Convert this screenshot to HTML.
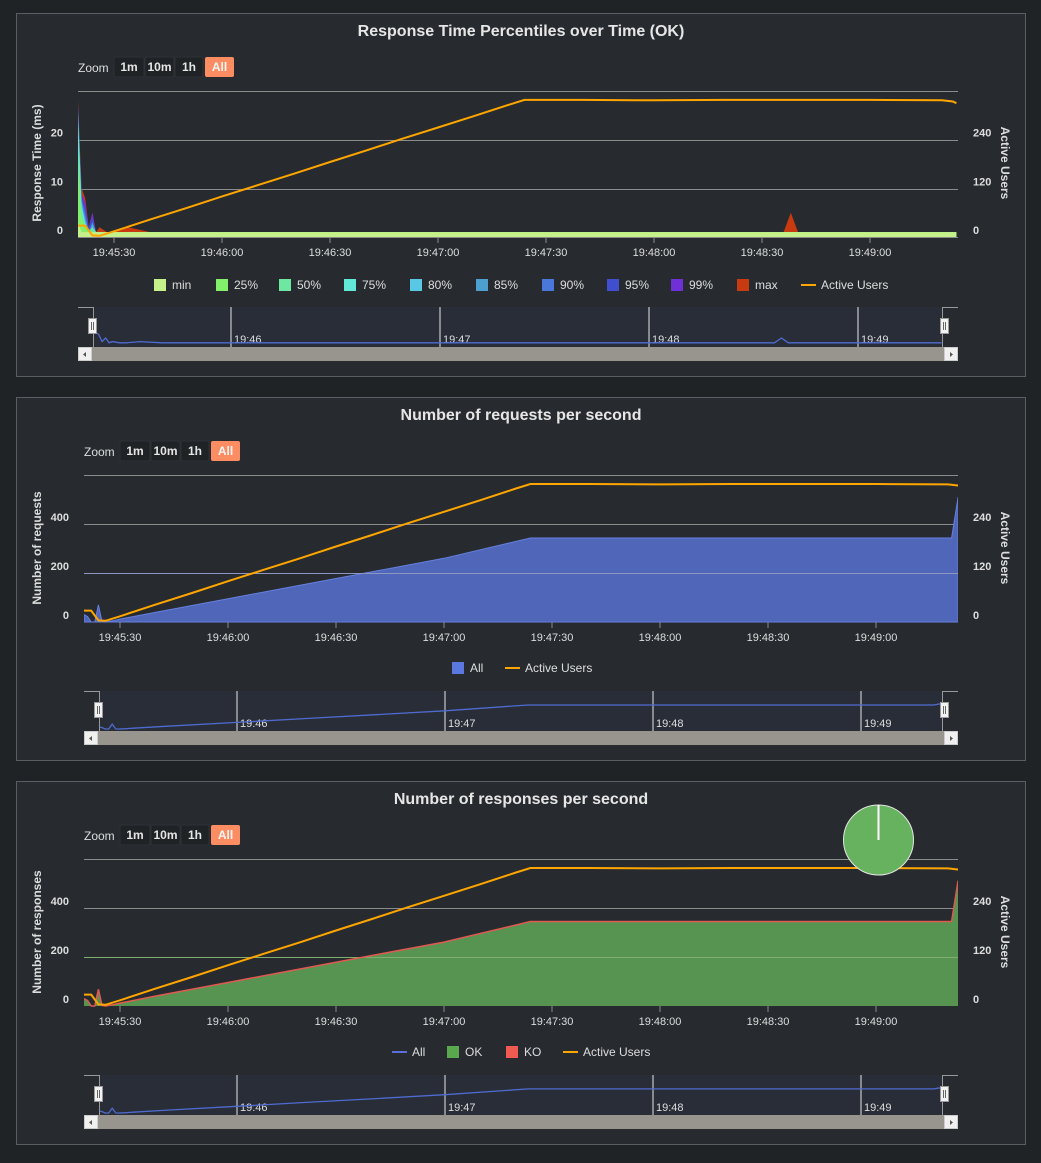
<!DOCTYPE html>
<html><head><meta charset="utf-8">
<style>
html,body{margin:0;padding:0;background:#1f2326;overflow:hidden;}
svg{display:block;font-family:"Liberation Sans",sans-serif;}
</style></head>
<body>
<svg id="root" width="1041" height="1163" viewBox="0 0 1041 1163" xmlns="http://www.w3.org/2000/svg"></svg>
<script>
// ---------- data ----------
const times1 = [0,1,2,3,4,5,6,8,10,14,20,30,60,90,120,150,180,196,198,200,230,244];
const maxV = [28,10,8,2,5,1,2,1,1,2,1,1,1,1,1,1,1,1,5,1,1,1];
const p99 = [27,9,7,2,5,1,1,1,1,1,1,1,1,1,1,1,1,1,1,1,1,1];
const p95 = [27,8,6,2,4,1,1,1,1,1,1,1,1,1,1,1,1,1,1,1,1,1];
const p90 = [26,8,5,1,3,1,1,1,1,1,1,1,1,1,1,1,1,1,1,1,1,1];
const p85 = [26,7,4,1,3,1,1,1,1,1,1,1,1,1,1,1,1,1,1,1,1,1];
const p80 = [25,7,3,1,2,1,1,1,1,1,1,1,1,1,1,1,1,1,1,1,1,1];
const p75 = [24,6,3,1,2,1,1,1,1,1,1,1,1,1,1,1,1,1,1,1,1,1];
const p50 = [20,5,2,1,2,1,1,1,1,1,1,1,1,1,1,1,1,1,1,1,1,1];
const p25 = [14,4,2,1,1,1,1,1,1,1,1,1,1,1,1,1,1,1,1,1,1,1];
const minV = [3,1,1,1,1,1,1,1,1,1,1,1,1,1,1,1,1,1,1,1,1,1];
const pctNames = ['min','25%','50%','75%','80%','85%','90%','95%','99%','max'];
const pctColors = ['#c6f08a','#82f06a','#6ee8a0','#62e8d6','#5ac8e4','#4ba0d0','#4a78d8','#3f4fd0','#7030d8','#c83a10'];

const uTimes = [0,2,4,6,10,20,30,40,50,60,70,80,90,100,110,120,124,140,160,180,200,220,240,243,244];
const uVals = [28,28,4,3,14,43,71,100,128,156,185,213,242,270,298,327,338,338,337,338,338,338,337,334,330];

const rTimes = [0,1,2,3,4,5,6,8,10,20,40,60,80,100,124,140,180,220,241,242.8];
const rVals = [30,22,0,0,70,2,0,5,12,40,95,150,205,260,343,343,343,343,343,510];
const okVals = [28,20,0,0,60,2,0,5,12,40,95,150,205,260,343,343,343,343,343,500];
const koVals = [2,2,0,0,8,0,0,0,0,1,1,1,1,1,2,2,2,2,2,12];

const xTickLabels = ['19:45:30','19:46:00','19:46:30','19:47:00','19:47:30','19:48:00','19:48:30','19:49:00'];
const xTickTimes = [10,40,70,100,130,160,190,220];
const navTickLabels = ['19:46','19:47','19:48','19:49'];
const navTickTimes = [40,100,160,220];
const rtTicks = [0,10,20];
const reqTicks = [0,200,400];
const userTicks = [0,120,240];

// ---------- helpers ----------
const NS='http://www.w3.org/2000/svg';
const root=document.getElementById('root');
function mk(tag,parent){const e=document.createElementNS(NS,tag);(parent||root).appendChild(e);return e;}
function at(e,o){for(const k in o)e.setAttribute(k,o[k]);return e;}
function txt(parent,x,y,s,size,fill,anchor,weight){const t=mk('text',parent);at(t,{x:x,y:y,'font-size':size,fill:fill,'text-anchor':anchor||'start','font-weight':weight||'normal'});t.textContent=s;return t;}
function linePath(ts,vs,xf,yf){return ts.map((t,i)=>(i?'L':'M')+xf(t).toFixed(1)+','+yf(vs[i]).toFixed(1)).join('');}
function areaPath(ts,vs,xf,yf,base){return linePath(ts,vs,xf,yf)+'L'+xf(ts[ts.length-1]).toFixed(1)+','+base+'L'+xf(ts[0]).toFixed(1)+','+base+'Z';}

const bg=mk('rect');at(bg,{x:0,y:0,width:1041,height:1163,fill:'#1f2326'});



let clipId=0;
function panel(oy,title){
  const g=mk('g');
  const r=mk('rect',g);at(r,{x:16.5,y:oy+13.5,width:1009,height:363,fill:'#272b2f',stroke:'#5b5e61'});
  
  const t=txt(g,521,oy+36,title,16,'#e6e6e6','middle','bold');
  
  return g;
}
function zoomButtons(g,x0,oy){
  const z=txt(g,x0,oy+72,'Zoom',12,'#dddddd');
  
  const labels=['1m','10m','1h','All'];const xs=[36,67,97,127];const ws=[30,29,28,29];
  labels.forEach((l,i)=>{
    const bg2=mk('g',g);
    const r=mk('rect',bg2);at(r,{x:x0+xs[i],y:oy+57,width:ws[i],height:20,rx:2,fill:l==='All'?'#fc8d62':'#1f2326',stroke:l==='All'?'none':'#2e3236'});
    txt(bg2,x0+xs[i]+ws[i]/2,oy+71,l,12,l==='All'?'#f5f5f5':'#e6e6e6','middle','bold');
  });
}
function grid(g,x0,x1,ys){ys.forEach(y=>{const l=mk('line',g);at(l,{x1:x0,x2:x1,y1:y,y2:y,stroke:'#8c8c8c','stroke-width':1});});}
function xAxis(g,xf,y){
  xTickTimes.forEach((t,i)=>{
    const x=xf(t);const l=mk('line',g);at(l,{x1:x,x2:x,y1:y,y2:y+6,stroke:'#888'});
    
    const tt=txt(g,x,y+19,xTickLabels[i],11,'#dddddd','middle');
    
  });
}
function yAxes(g,ticksL,yfL,xL,titleL,yfR,midY){
  ticksL.forEach(v=>{const t=txt(g,xL,yfL(v)-3,String(v),11,'#dddddd','end','bold');});
  userTicks.forEach(v=>{const t=txt(g,973,yfR(v)-3,String(v),11,'#dddddd','start','bold');});
  const a=txt(g,0,0,titleL,12,'#dddddd','middle','bold');at(a,{transform:'translate(41,'+midY+') rotate(-90)'});
  
  const b=txt(g,0,0,'Active Users',12,'#dddddd','middle','bold');at(b,{transform:'translate(1001,'+midY+') rotate(90)'});
  
}
function clip(x,y,w,h){const id='c'+(clipId++);const cp=mk('clipPath');cp.setAttribute('id',id);const r=mk('rect',cp);at(r,{x:x,y:y,width:w,height:h});return 'url(#'+id+')';}
function navigator(g,x0,x1,oy,xn,navTs,navVs,navY){
  const ng=mk('g',g);
  const m=mk('rect',ng);at(m,{x:x0+15,y:oy+307,width:x1-x0-30,height:40,fill:'#282d38'});
  navTickTimes.forEach((t,i)=>{const x=xn(t);const l=mk('line',ng);at(l,{x1:x,x2:x,y1:oy+307,y2:oy+347,stroke:'#e8e8e8'});
    
    const tt=txt(ng,x+3,oy+343,navTickLabels[i],11,'#dddddd');});
  const p=mk('path',ng);at(p,{d:linePath(navTs,navVs,xn,navY),fill:'none',stroke:'#4f6bd0','stroke-width':1.3,'clip-path':clip(x0+15,oy+300,x1-x0-30,50)});
  
  const o=mk('path',ng);at(o,{d:'M'+x0+','+(oy+307.5)+'H'+(x0+15.5)+'V'+(oy+347)+'M'+x1+','+(oy+307.5)+'H'+(x1-15.5)+'V'+(oy+347),fill:'none',stroke:'#999'});
  [x0+10,x1-18].forEach(hx=>{const h=mk('rect',ng);at(h,{x:hx+0.5,y:oy+318.5,width:8,height:15,fill:'#f2f2f2',stroke:'#999'});
    
    const l1=mk('path',ng);at(l1,{d:'M'+(hx+3.5)+','+(oy+322)+'V'+(oy+330)+'M'+(hx+5.5)+','+(oy+322)+'V'+(oy+330),stroke:'#666'});});
  const sb=mk('rect',ng);at(sb,{x:x0,y:oy+347,width:x1-x0,height:14,fill:'#98958f'});
  
  [x0,x1-14].forEach((bx,i)=>{const b=mk('rect',ng);at(b,{x:bx+0.5,y:oy+347.5,width:13,height:13,fill:'#f0f0f0',stroke:'#ccc'});
    
    const a=mk('path',ng);at(a,{d:i?'M'+(bx+6)+','+(oy+352)+'l3,2.5l-3,2.5z':'M'+(bx+8)+','+(oy+352)+'l-3,2.5l3,2.5z',fill:'#555'});});
}
function legendSquare(g,x,y,c,label,name){const lg=mk('g',g);
  const r=mk('rect',lg);at(r,{x:x,y:y-6,width:12,height:12,fill:c});txt(lg,x+18,y+4,label,12,'#dddddd');}
function legendLine(g,x,y,c,label,name){const lg=mk('g',g);
  const l=mk('line',lg);at(l,{x1:x,x2:x+15,y1:y,y2:y,stroke:c,'stroke-width':2});txt(lg,x+20,y+4,label,12,'#dddddd');}

// ---------- Chart 1 ----------
(function(){
  const g=panel(0,'Response Time Percentiles over Time (OK)');
  zoomButtons(g,78,0);
  const xs=t=>78+t*3.6, ys=v=>237-v*4.867, yu=u=>237-u*48.67/120;
  grid(g,78,958,[91.5,140.5,189.5]);
  const cp=clip(78,85,880,153);
  const series=[minV,p25,p50,p75,p80,p85,p90,p95,p99,maxV];
  for(let i=series.length-1;i>=0;i--){
    const p=mk('path',g);at(p,{d:areaPath(times1,series[i],xs,ys,237),fill:pctColors[i],'clip-path':cp});
    
  }
  const bl=mk('line',g);at(bl,{x1:78,x2:958,y1:237.5,y2:237.5,stroke:'#888'});
  
  const u=mk('path',g);at(u,{d:linePath(uTimes,uVals,xs,yu),fill:'none',stroke:'#ffa500','stroke-width':2,'clip-path':cp});
  
  xAxis(g,xs,237);
  yAxes(g,rtTicks,ys,63,'Response Time (ms)',yu,163);
  const lx=[154,216,279,344,410,476,542,607,671,737];
  pctNames.forEach((n,i)=>legendSquare(g,lx[i],285,pctColors[i],n,'legend-'+n.replace('%','')));
  legendLine(g,801,285,'#ffa500','Active Users','legend-active-users');
  navigator(g,78,958,0,t=>231+(t-40)*209/60,times1,maxV,v=>344-v*1.2);
})();

// ---------- Chart 2 ----------
(function(){
  const oy=384;
  const g=panel(oy,'Number of requests per second');
  zoomButtons(g,84,oy);
  const xs=t=>84+t*3.6, ys=v=>oy+238-v*49/200, yu=u=>oy+238-u*49/120;
  grid(g,84,958,[oy+91.5,oy+140.5]);
  const cp=clip(84,oy+86,874,153);
  const a=mk('path',g);at(a,{d:areaPath(rTimes,rVals,xs,ys,oy+238),fill:'#5066b8',stroke:'#6680e0','stroke-width':1,'clip-path':cp});
  
  const gl=mk('line',g);at(gl,{x1:84,x2:958,y1:oy+189.5,y2:oy+189.5,stroke:'#8c96c0'});
  
  const u=mk('path',g);at(u,{d:linePath(uTimes,uVals,xs,yu),fill:'none',stroke:'#ffa500','stroke-width':2,'clip-path':cp});
  
  xAxis(g,xs,oy+238);
  yAxes(g,reqTicks,ys,69,'Number of requests',yu,oy+164);
  legendSquare(g,452,oy+284,'#5a78e0','All','legend-all');
  legendLine(g,505,oy+284,'#ffa500','Active Users','legend-active-users');
  navigator(g,84,958,oy,t=>237+(t-40)*208/60,rTimes,rVals,v=>oy+345-Math.min(v,360)*24/343);
})();

// ---------- Chart 3 ----------
(function(){
  const oy=768;
  const g=panel(oy,'Number of responses per second');
  zoomButtons(g,84,oy);
  const xs=t=>84+t*3.6, ys=v=>oy+238-v*49/200, yu=u=>oy+238-u*49/120;
  grid(g,84,958,[oy+91.5,oy+140.5]);
  const cp=clip(84,oy+86,874,153);
  const allVals=okVals.map((v,i)=>v+koVals[i]);
  const ko=mk('path',g);at(ko,{d:areaPath(rTimes,allVals,xs,ys,oy+238),fill:'#e05a50','clip-path':cp});
  
  const ok=mk('path',g);at(ok,{d:areaPath(rTimes,okVals,xs,ys,oy+238),fill:'#579452','clip-path':cp});
  
  const gl=mk('line',g);at(gl,{x1:84,x2:958,y1:oy+189.5,y2:oy+189.5,stroke:'#7fae6f'});
  
  const al=mk('path',g);at(al,{d:linePath(rTimes,allVals,xs,ys),fill:'none',stroke:'#e05a50','stroke-width':1.5,'clip-path':cp});
  
  const u=mk('path',g);at(u,{d:linePath(uTimes,uVals,xs,yu),fill:'none',stroke:'#ffa500','stroke-width':2,'clip-path':cp});
  
  xAxis(g,xs,oy+238);
  yAxes(g,reqTicks,ys,69,'Number of responses',yu,oy+164);
  const pie=mk('circle',g);at(pie,{cx:878.5,cy:oy+72,r:35,fill:'#67b25e',stroke:'#e6e6e6','stroke-width':1});
  
  const pl=mk('line',g);at(pl,{x1:878.5,x2:878.5,y1:oy+37,y2:oy+72,stroke:'#ffffff','stroke-width':2});
  
  legendLine(g,392,oy+284,'#5a70d8','All','legend-all');
  legendSquare(g,447,oy+284,'#5aa84e','OK','legend-ok');
  legendSquare(g,506,oy+284,'#f05a50','KO','legend-ko');
  legendLine(g,563,oy+284,'#ffa500','Active Users','legend-active-users');
  navigator(g,84,958,oy,t=>237+(t-40)*208/60,rTimes,allVals,v=>oy+345-Math.min(v,360)*24/343);
})();
</script>
</body></html>
